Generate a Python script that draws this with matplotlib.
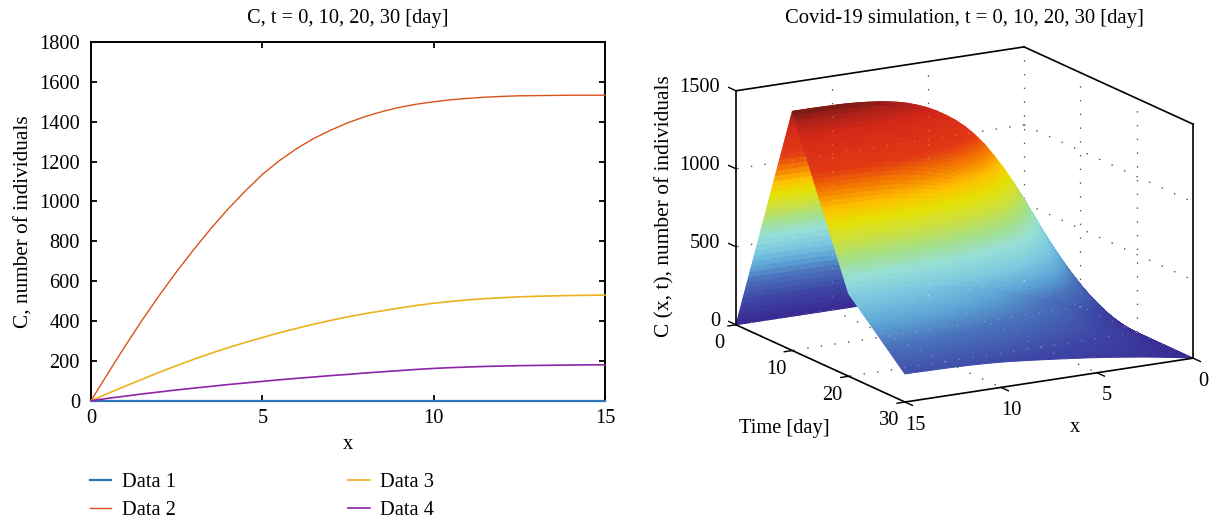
import numpy as np
import matplotlib
matplotlib.use('Agg')
import matplotlib.pyplot as plt
from matplotlib.colors import LinearSegmentedColormap
from mpl_toolkits.mplot3d import proj3d

plt.rcParams['font.family'] = ['Liberation Serif', 'DejaVu Serif']
plt.rcParams['font.size'] = 14.7

# --- values ---
x_vals = [0, 0.5, 1, 1.5, 2, 2.5, 3, 3.5, 4, 4.5, 5, 5.5, 6, 6.5, 7, 7.5,
          8, 8.5, 9, 9.5, 10, 10.5, 11, 11.5, 12, 12.5, 13, 13.5, 14, 14.5, 15]
data_1 = [0] * 31
data_2 = [0, 139, 275, 406, 530, 648, 759, 864, 962, 1052, 1135, 1205, 1265, 1316, 1358, 1395,
          1426, 1451, 1472, 1488, 1500, 1510, 1517, 1523, 1527, 1530, 1531, 1532, 1533, 1533, 1533]
data_3 = [0, 37, 73, 108, 143, 176, 208, 238, 266, 292, 317, 341, 363, 384, 403, 421,
          437, 451, 465, 478, 489, 498, 506, 512, 517, 521, 524, 526, 528, 529, 530]
data_4 = [0, 12, 23, 34, 44, 54, 63, 72, 81, 89, 97, 105, 112, 119, 126, 132,
          139, 145, 151, 157, 162, 166, 169, 172, 174, 176, 177, 178, 179, 180, 180]
days = [0, 10, 20, 30]

x_ticks = [0, 5, 10, 15]
y_ticks = [0, 200, 400, 600, 800, 1000, 1200, 1400, 1600, 1800]
t_ticks = [0, 10, 20, 30]
z_ticks = [0, 500, 1000, 1500]

W, H = 1209, 522
fig = plt.figure(figsize=(W / 100, H / 100), dpi=100)

# --- left panel: the four curves ---
ax = fig.add_axes([91 / W, (H - 400.7) / H, 514 / W, 358.7 / H])
colors = ['#2E75B8', '#D95319', '#EDB120', '#8E24A8']
labels = ['Data 1', 'Data 2', 'Data 3', 'Data 4']
widths = [1.6, 1.0, 1.2, 1.2]
for vals, c, lab, lw in zip([data_1, data_2, data_3, data_4], colors, labels, widths):
    ax.plot(x_vals, vals, color=c, lw=lw, label=lab, clip_on=False, zorder=3)
ax.set_xlim(0, 15)
ax.set_ylim(0, 1800)
ax.set_xticks(x_ticks)
ax.set_yticks(y_ticks)
ax.tick_params(direction='in', top=True, right=True, length=4.5, width=1.3)
ax.tick_params(axis='y', pad=8)
ax.tick_params(axis='x', pad=6)
for s in ax.spines.values():
    s.set_linewidth(1.4)
ax.set_xlabel('x', labelpad=5)
ax.set_ylabel('C, number of individuals', labelpad=4, fontsize=15.3)
ax.set_title('C, t = 0, 10, 20, 30 [day]', fontsize=14.7, pad=14)
ax.legend(loc='upper left', bbox_to_anchor=(90 / W, 1 - 473 / H), bbox_transform=fig.transFigure,
          ncol=2, frameon=False, borderpad=0, borderaxespad=0, handlelength=1.05,
          handletextpad=0.5, columnspacing=8.45, labelspacing=0.42)

# --- right panel: surface over x and t ---
z_levels = [0, 150, 300, 400, 500, 620, 720, 820, 920, 1000, 1100, 1200, 1400, 1490, 1533]
z_colors = ['#392B91', '#3D45A5', '#4A72BC', '#5DA6D6', '#7CC8E0', '#98E0D8', '#A4E088', '#CCE040',
            '#E6E000', '#FFC000', '#F47A00', '#E23A14', '#D42818', '#A8201A', '#7C1A14']
cmap = LinearSegmentedColormap.from_list('cz', [(z / z_levels[-1], c) for z, c in zip(z_levels, z_colors)], N=512)

ax3 = fig.add_axes([699 / W, 32 / H, 517.1 / W, 517.1 / H], projection='3d', computed_zorder=False)
ax3.set_proj_type('ortho')
ax3.view_init(elev=15.3, azim=60)
ax3.set_box_aspect((332.6, 338, 242.6))
ax3.set_xlim(0, 15)
ax3.set_ylim(0, 30)
ax3.set_zlim(0, 1500)
ax3.set_xticks([])
ax3.set_yticks([])
ax3.set_zticks([])
ax3.set_axis_off()
ax3.patch.set_alpha(0)

# finer mesh only for smooth shading between the four time rows
rows = np.array([data_1, data_2, data_3, data_4], dtype=float)
x_fine = np.linspace(0, 15, 91)
t_fine = np.linspace(0, 30, 121)
by_x = np.array([np.interp(x_fine, x_vals, r) for r in rows])
Z = np.array([np.interp(t_fine, days, by_x[:, j]) for j in range(len(x_fine))])
X, T = np.meshgrid(x_fine, t_fine, indexing='ij')
ax3.plot_surface(X, T, Z, facecolors=cmap(Z / z_levels[-1]), rstride=1, cstride=1,
                 shade=False, linewidth=0.7, antialiased=True, zorder=2)

# dotted grid on floor and back walls
grid = []
for xv in x_ticks:
    grid.append(([xv, xv], [0, 30], [0, 0]))
for tv in t_ticks[:-1]:
    grid.append(([0, 15], [tv, tv], [0, 0]))
for zv in z_ticks[1:-1]:
    grid.append(([0, 15], [0, 0], [zv, zv]))
    grid.append(([0, 0], [0, 30], [zv, zv]))
for xv in x_ticks[:-1]:
    grid.append(([xv, xv], [0, 0], [0, 1500]))
for tv in t_ticks[1:-1]:
    grid.append(([0, 0], [tv, tv], [0, 1500]))
for gx, gt, gz in grid:
    ax3.plot(gx, gt, gz, color='black', lw=0.9, ls=(0, (1, 10)), zorder=1)
    ax3.plot(gx, gt, gz, color='white', alpha=0.3, lw=0.9, ls=(0, (1, 10)), zorder=3)

# box edges
box = [([15, 15], [0, 0], [0, 1500]), ([0, 0], [30, 30], [0, 1500]),
       ([15, 0], [0, 0], [1500, 1500]), ([0, 0], [0, 30], [1500, 1500]),
       ([15, 15], [0, 30], [0, 0]), ([15, 0], [30, 30], [0, 0])]
for bx, bt, bz in box:
    ax3.plot(bx, bt, bz, color='black', lw=1.2, zorder=4)

# tick labels go through the 3d projection, then sit as plain 2d text
def label3d(xv, tv, zv, s, ha='center'):
    px, py, _ = proj3d.proj_transform(xv, tv, zv, ax3.get_proj())
    ax3.text2D(px, py, s, transform=ax3.transData, ha=ha, va='center', fontsize=14.7)

for xv in x_ticks:
    ax3.plot([xv, xv], [30, 31.3], [0, 0], color='black', lw=1.0, zorder=4)
    label3d(xv, 31.8, -118, str(xv))
for tv in t_ticks:
    ax3.plot([15, 15.42], [tv, tv], [0, 0], color='black', lw=1.0, zorder=4)
    label3d(15.85, tv, -105, str(tv))
for zv in z_ticks:
    ax3.plot([15, 15], [0, -1.3], [zv, zv], color='black', lw=1.0, zorder=4)
    label3d(15, -2.84, zv - 28, str(zv), ha='right')

fig.text(964 / W, 1 - 19 / H, 'Covid-19 simulation, t = 0, 10, 20, 30 [day]', ha='center', va='center', fontsize=14.9)
fig.text(665 / W, 1 - 206 / H, 'C (x, t), number of individuals', rotation=90, ha='center', va='center', fontsize=15.4)
fig.text(784 / W, 1 - 429 / H, 'Time [day]', ha='center', va='center', fontsize=14.7)
fig.text(1075 / W, 1 - 427 / H, 'x', ha='center', va='center', fontsize=14.7)

plt.savefig('out.png', dpi=100)
